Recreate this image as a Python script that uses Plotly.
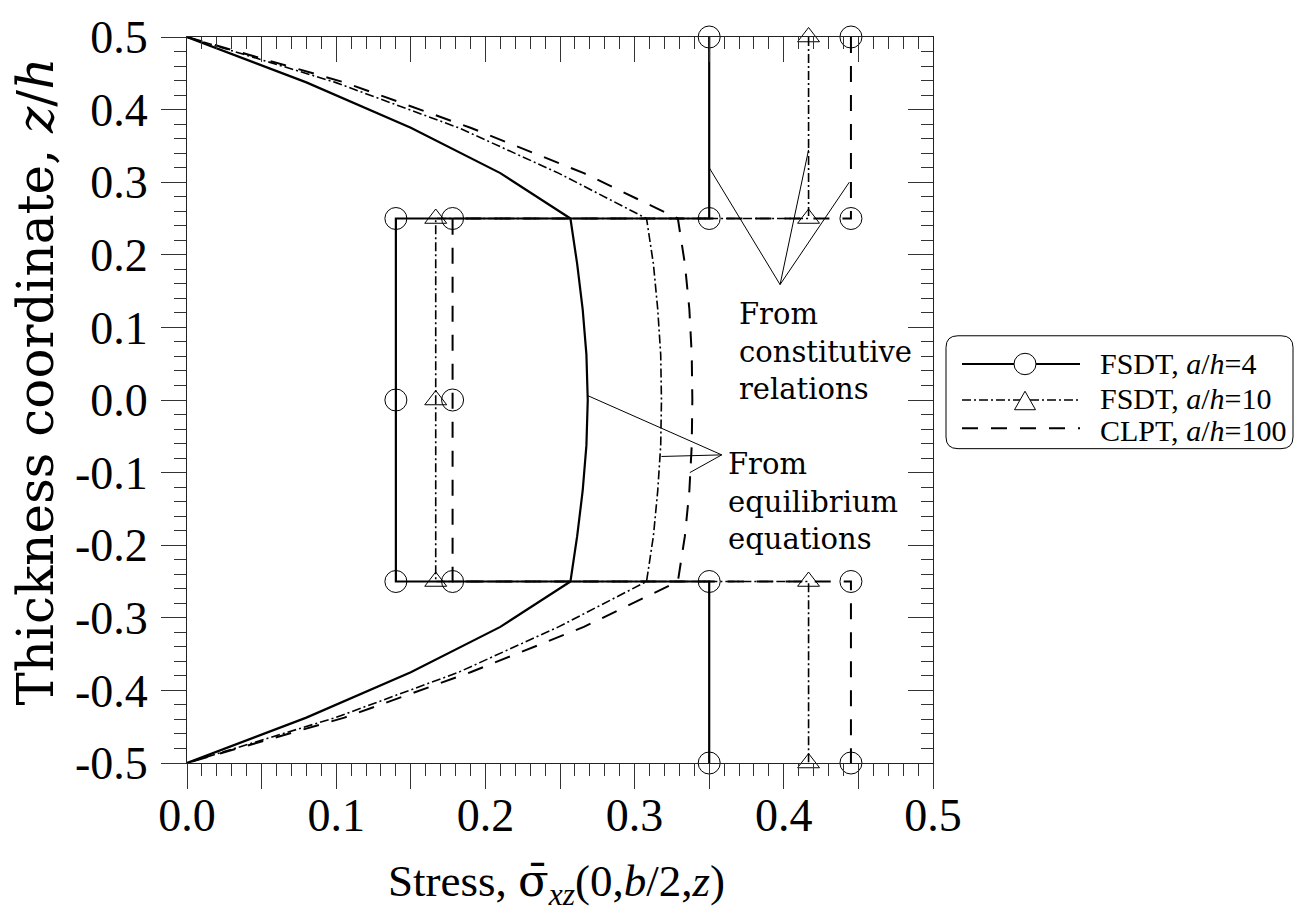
import plotly.graph_objects as go

# ---------------- data ----------------
z_eq = [0.5, 0.4375, 0.375, 0.3125, 0.25, 0.1875, 0.125, 0.0625, 0.0,
        -0.0625, -0.125, -0.1875, -0.25, -0.3125, -0.375, -0.4375, -0.5]
eq_fsdt4 = [0.0, 0.080, 0.150, 0.210, 0.257, 0.2615, 0.2652, 0.2677, 0.2686,
            0.2677, 0.2652, 0.2615, 0.257, 0.210, 0.150, 0.080, 0.0]
eq_fsdt10 = [0.0, 0.0994, 0.182, 0.249, 0.308, 0.3126, 0.3155, 0.3175, 0.318,
             0.3175, 0.3155, 0.3126, 0.308, 0.249, 0.182, 0.0994, 0.0]
eq_clpt = [0.0, 0.1055, 0.190, 0.266, 0.329, 0.3337, 0.3367, 0.3383, 0.3387,
           0.3383, 0.3367, 0.3337, 0.329, 0.266, 0.190, 0.1055, 0.0]

z_con = [0.5, 0.25, 0.25, 0.0, -0.25, -0.25, -0.5]
con_fsdt4 = [0.35, 0.35, 0.14, 0.14, 0.14, 0.35, 0.35]
con_fsdt10 = [0.4166, 0.4166, 0.1667, 0.1667, 0.1667, 0.4166, 0.4166]
con_clpt = [0.445, 0.445, 0.178, 0.178, 0.178, 0.445, 0.445]

series_names = ["FSDT, <i>a</i>/<i>h</i>=4", "FSDT, <i>a</i>/<i>h</i>=10",
                "CLPT, <i>a</i>/<i>h</i>=100"]

x_tickvals = [0.0, 0.05, 0.1, 0.15, 0.2, 0.25, 0.3, 0.35, 0.4, 0.45, 0.5]
x_ticktext = ["0.0", "", "0.1", "", "0.2", "", "0.3", "", "0.4", "", "0.5"]
y_tickvals = [0.5, 0.4, 0.3, 0.2, 0.1, 0.0, -0.1, -0.2, -0.3, -0.4, -0.5]
y_ticktext = ["0.5", "0.4", "0.3", "0.2", "0.1", "0.0", "-0.1", "-0.2", "-0.3", "-0.4", "-0.5"]
x_range = [0.0, 0.5]
y_range = [-0.5, 0.5]

# annotation pointers (vertex, targets) in data units
constitutive_vertex = (0.3975, 0.159)
constitutive_targets = [(0.35, 0.320), (0.4166, 0.3445), (0.4439, 0.300)]
equilibrium_vertex = (0.3584, -0.0756)
equilibrium_targets = [(0.2686, 0.006), (0.318, -0.0778), (0.337, -0.100)]

# ---------------- styles ----------------
W, H = 1295, 916
L, R, T, B = 187, 362, 17, 153
PW = W - L - R
PH = H - T - B


def px(x):
    return (x - L) / PW


def py(y):
    return (H - B - y) / PH


SERIF = "Liberation Serif"
WIDE = "DejaVu Serif, Liberation Serif, serif"
styles = [
    dict(width=2.2, dash="solid", symbol="circle-open", size=22),
    dict(width=1.6, dash="9px,3px,2px,3px", symbol="triangle-up-open", size=19),
    dict(width=2.0, dash="16px,13px", symbol="circle-open", size=22),
]

fig = go.Figure()
eq_sets = [eq_fsdt4, eq_fsdt10, eq_clpt]
con_sets = [con_fsdt4, con_fsdt10, con_clpt]
for i in [2, 1, 0]:
    st = styles[i]
    fig.add_trace(go.Scatter(
        x=eq_sets[i], y=z_eq, mode="lines", name=series_names[i],
        line=dict(color="black", width=st["width"], dash=st["dash"]),
        showlegend=False, hoverinfo="skip"))
    fig.add_trace(go.Scatter(
        x=con_sets[i], y=z_con, mode="lines+markers", name=series_names[i],
        line=dict(color="black", width=st["width"], dash=st["dash"]),
        marker=dict(symbol=st["symbol"], size=st["size"], color="black",
                    line=dict(width=1, color="black")),
        cliponaxis=False, showlegend=False, hoverinfo="skip"))

# empty trace so that the mirrored (top/right) frame axes get drawn
fig.add_trace(go.Scatter(x=x_range, y=y_range, xaxis="x2", yaxis="y2", mode="none",
                         showlegend=False, hoverinfo="skip"))

shapes = []
# leader lines
for vx, targets in [(constitutive_vertex, constitutive_targets),
                    (equilibrium_vertex, equilibrium_targets)]:
    for tx, tz in targets:
        shapes.append(dict(type="line", xref="x", yref="y", x0=vx[0], y0=vx[1],
                           x1=tx, y1=tz, line=dict(color="black", width=1)))

# legend box (rounded)
x0, x1 = px(946), px(1293)
y0, y1 = py(440), py(324)
r = 12 / PW
path = (f"M {x0+r},{y1} L {x1-r},{y1} Q {x1},{y1} {x1},{y1-r} L {x1},{y0+r} "
        f"Q {x1},{y0} {x1-r},{y0} L {x0+r},{y0} Q {x0},{y0} {x0},{y0+r} "
        f"L {x0},{y1-r} Q {x0},{y1} {x0+r},{y1} Z")
shapes.append(dict(type="path", xref="paper", yref="paper", path=path,
                   line=dict(color="black", width=1), fillcolor="white", layer="above"))

row_y = [353, 390, 419]
text_y = [352, 388, 421]
for i in range(3):
    st = styles[i]
    shapes.append(dict(type="line", xref="paper", yref="paper",
                       x0=px(962), x1=px(1080), y0=py(row_y[i]), y1=py(row_y[i]),
                       line=dict(color="black", width=st["width"], dash=st["dash"])))
# legend markers
shapes.append(dict(type="circle", xref="paper", yref="paper",
                   x0=px(1014), x1=px(1036), y0=py(364), y1=py(342),
                   line=dict(color="black", width=1), fillcolor="white"))
tri = (f"M {px(1025)},{py(381)} L {px(1035.5)},{py(400)} L {px(1014.5)},{py(400)} Z")
shapes.append(dict(type="path", xref="paper", yref="paper", path=tri,
                   line=dict(color="black", width=1), fillcolor="white"))

annotations = []
for i in range(3):
    annotations.append(dict(xref="paper", yref="paper", x=px(1098), y=py(text_y[i]),
                            xanchor="left", yanchor="middle", text=series_names[i],
                            showarrow=False, font=dict(family=SERIF, size=30, color="black")))

annotations.append(dict(xref="paper", yref="paper", x=px(737), y=py(340),
                        xanchor="left", yanchor="middle", align="left",
                        text="From<br>constitutive<br>relations", showarrow=False,
                        font=dict(family=WIDE, size=29, color="black")))
annotations.append(dict(xref="paper", yref="paper", x=px(726), y=py(494),
                        xanchor="left", yanchor="middle", align="left",
                        text="From<br>equilibrium<br>equations", showarrow=False,
                        font=dict(family=WIDE, size=29, color="black")))
# axis titles
annotations.append(dict(xref="paper", yref="paper", x=px(36), y=py(371),
                        xanchor="center", yanchor="middle", textangle=-90,
                        text="Thickness coordinate, <i>z</i>/<i>h</i>", showarrow=False,
                        font=dict(family=WIDE, size=50, color="black")))
annotations.append(dict(xref="paper", yref="paper", x=px(556), y=py(886),
                        xanchor="center", yanchor="middle",
                        text=("Stress, <span style='font-family:DejaVu Serif'>σ̄</span>"
                              "<sub><i>xz</i></sub>(0,<i>b</i>/2,<i>z</i>)"),
                        showarrow=False,
                        font=dict(family=SERIF, size=45, color="black")))

axis_common = dict(showgrid=False, zeroline=False, showline=True,
                   linecolor="#222", linewidth=1, tickcolor="#333", tickwidth=1,
                   ticklen=25)

fig.update_layout(
    width=W, height=H,
    margin=dict(l=L, r=R, t=T, b=B, pad=0),
    paper_bgcolor="white", plot_bgcolor="white",
    showlegend=False,
    xaxis=dict(range=x_range, tickmode="array", tickvals=x_tickvals, ticktext=x_ticktext,
               ticks="outside", tickfont=dict(family=SERIF, size=46, color="black"),
               ticklabeloverflow="allow", ticklabelstandoff=-13,
               minor=dict(tickmode="linear", tick0=0, dtick=0.01, ticks="outside",
                          ticklen=12, tickcolor="#333", tickwidth=1),
               **axis_common),
    xaxis2=dict(range=x_range, overlaying="x", anchor="y", side="top",
                tickmode="array", tickvals=x_tickvals, showticklabels=False,
                ticks="inside",
                minor=dict(tickmode="linear", tick0=0, dtick=0.01, ticks="inside",
                           ticklen=12, tickcolor="#333", tickwidth=1),
                **axis_common),
    yaxis=dict(range=y_range, tickmode="array", tickvals=y_tickvals, ticktext=y_ticktext,
               ticks="outside", tickfont=dict(family=SERIF, size=46, color="black"),
               ticklabeloverflow="allow", ticklabelstandoff=4,
               minor=dict(tickmode="linear", tick0=0, dtick=0.02, ticks="outside",
                          ticklen=12, tickcolor="#333", tickwidth=1),
               **axis_common),
    yaxis2=dict(range=y_range, overlaying="y", anchor="x", side="right",
                tickmode="array", tickvals=y_tickvals, showticklabels=False,
                ticks="inside",
                minor=dict(tickmode="linear", tick0=0, dtick=0.02, ticks="inside",
                           ticklen=12, tickcolor="#333", tickwidth=1),
                **axis_common),
    shapes=shapes,
    annotations=annotations,
)

fig.write_html("out.html", config={"displayModeBar": False},
               post_script="document.body.style.margin='0px';document.body.style.overflow='hidden';")
